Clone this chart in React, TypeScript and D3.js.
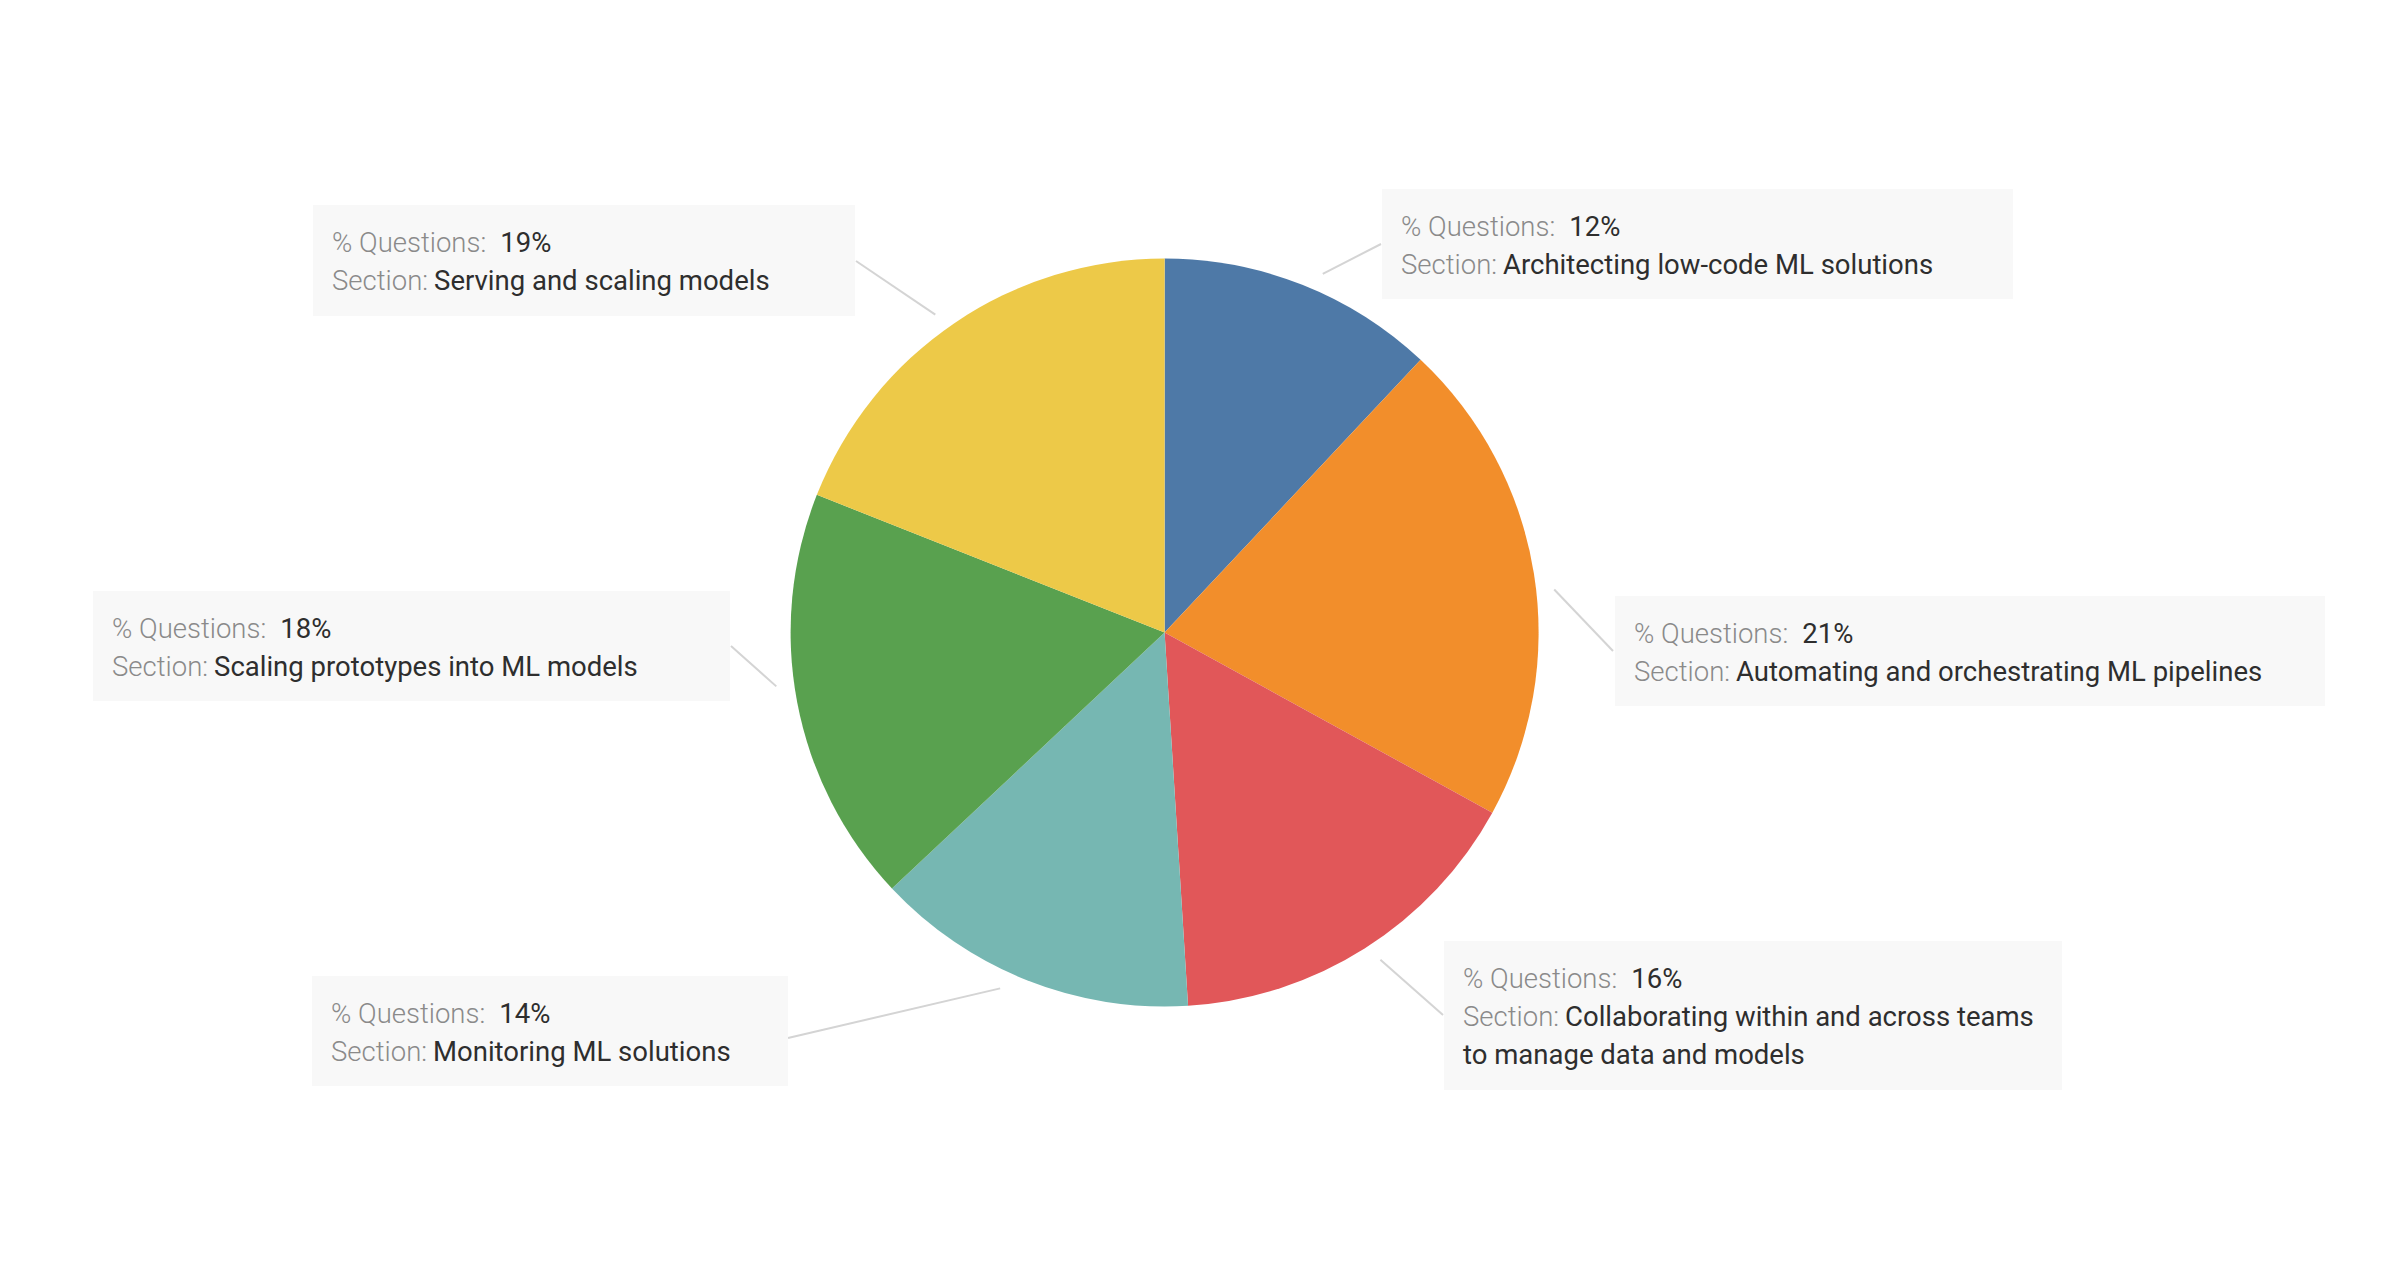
import React from "react";
import * as d3 from "d3";

const sections = [
  "Architecting low-code ML solutions",
  "Automating and orchestrating ML pipelines",
  "Collaborating within and across teams to manage data and models",
  "Monitoring ML solutions",
  "Scaling prototypes into ML models",
  "Serving and scaling models",
];
const shares = [12, 21, 16, 14, 18, 19];
const colors = ["#4e79a7", "#f28e2b", "#e15759", "#76b7b2", "#59a14f", "#edc948"];
// lines of the "Section:" value per label (wrapped like the reference)
const sectionLines = [
  ["Architecting low-code ML solutions"],
  ["Automating and orchestrating ML pipelines"],
  ["Collaborating within and across teams", "to manage data and models"],
  ["Monitoring ML solutions"],
  ["Scaling prototypes into ML models"],
  ["Serving and scaling models"],
];

// layout for annotation boxes: [x, y, w, h], leader inner angle (deg), outer point
const boxes = [
  { x: 1382, y: 189, w: 631, h: 110, ang: 23.8, ox: 1381, oy: 244 },
  { x: 1615, y: 596, w: 710, h: 110, ang: 83.7, ox: 1613, oy: 651 },
  { x: 1444, y: 941, w: 618, h: 149, ang: 146.6, ox: 1443, oy: 1015 },
  { x: 312, y: 976, w: 476, h: 110, ang: 204.8, ox: 788, oy: 1038 },
  { x: 93, y: 591, w: 637, h: 110, ang: 262.1, ox: 731, oy: 646 },
  { x: 313, y: 205, w: 542, h: 111, ang: 324.2, ox: 856, oy: 261 },
];

const W = 2384;
const H = 1282;
const cx = 1164.6;
const cy = 632.5;
const R = 374;

export default function App() {
  const pie = d3.pie<number>().sort(null).value((d) => d)(shares);
  const arc = d3.arc<d3.PieArcDatum<number>>().innerRadius(0).outerRadius(R);
  const font = "Roboto, 'Noto Sans', sans-serif";
  const fs = 27.5;
  const lh = 38;
  return (
    <div style={{ position: "fixed", left: 0, top: 0 }}>
      <svg width={W} height={H} style={{ display: "block", background: "#fff" }}>
        <g transform={`translate(${cx},${cy})`}>
          {pie.map((p, i) => (
            <path key={i} d={arc(p) || ""} fill={colors[i]} />
          ))}
        </g>
        {boxes.map((b, i) => {
          const a = (b.ang * Math.PI) / 180;
          const ix = cx + 392 * Math.sin(a);
          const iy = cy - 392 * Math.cos(a);
          const tx = b.x + 19;
          const y0 = b.y + 47;
          return (
            <g key={i}>
              <line x1={ix} y1={iy} x2={b.ox} y2={b.oy} stroke="#d4d4d4" strokeWidth={2} />
              <rect x={b.x} y={b.y} width={b.w} height={b.h} fill="#f8f8f8" />
              <text x={tx} y={y0} fontFamily={font} fontSize={fs}>
                <tspan fill="#8a8a8a" fontWeight={300}>% Questions:</tspan>
                <tspan fill="#2e2e2e" dx={14}>{shares[i]}%</tspan>
              </text>
              <text x={tx} y={y0 + lh} fontFamily={font} fontSize={fs}>
                <tspan fill="#8a8a8a" fontWeight={300}>Section:</tspan>
                <tspan fill="#2e2e2e" dx={6}>{sectionLines[i][0]}</tspan>
              </text>
              {sectionLines[i].slice(1).map((l, k) => (
                <text key={k} x={tx} y={y0 + lh * (k + 2)} fontFamily={font} fontSize={fs} fill="#2e2e2e">
                  {l}
                </text>
              ))}
            </g>
          );
        })}
      </svg>
    </div>
  );
}
